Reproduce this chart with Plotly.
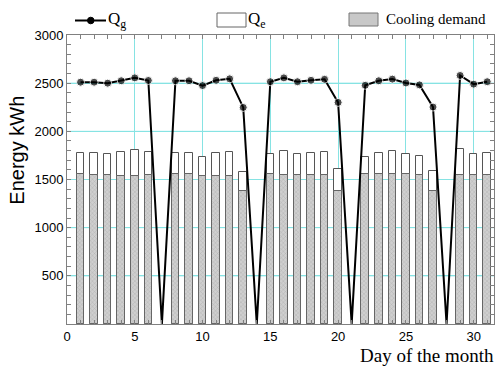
import plotly.graph_objects as go

days = list(range(1, 32))
qg = [2510, 2510, 2500, 2525, 2555, 2528, 0, 2525, 2525, 2475, 2530, 2545, 2248, 0,
      2515, 2555, 2515, 2530, 2540, 2300, 0, 2478, 2525, 2542, 2502, 2482, 2252, 0,
      2580, 2490, 2515]
qe = [1772, 1772, 1769, 1782, 1809, 1782, None, 1772, 1772, 1735, 1779, 1789, 1575, None,
      1765, 1792, 1765, 1775, 1786, 1612, None, 1738, 1775, 1792, 1762, 1745, 1592, None,
      1819, 1762, 1775]
cooling = [1554, 1544, 1544, 1534, 1534, 1544, None, 1554, 1554, 1540, 1540, 1534, 1381, None,
           1554, 1544, 1544, 1544, 1544, 1381, None, 1554, 1554, 1554, 1554, 1544, 1381, None,
           1551, 1551, 1551]
x_tick_step = 5
y_tick_step = 500
y_max = 3000

W, H = 499, 367
ML, MR, MT, MB = 67, 5, 35, 43
PW, PH = W - ML - MR, H - MT - MB
GRID = "#86e3e3"


def px(xp):
    return (xp - ML) / PW


def py(yp):
    return (H - MB - yp) / PH


fig = go.Figure()
fig.add_trace(go.Bar(
    x=days, y=qe, width=0.55, name="Q<sub>e</sub>",
    marker=dict(color="white", line=dict(color="#555555", width=1)),
))
fig.add_trace(go.Bar(
    x=days, y=cooling, width=0.55, name="Cooling demand",
    marker=dict(color="#c4c4c4", line=dict(color="#666666", width=1),
                pattern=dict(shape="x", size=3, solidity=0.25, fgcolor="#8a8a8a", bgcolor="#cfcfcf")),
))
fig.add_trace(go.Scatter(
    x=days, y=qg, mode="lines+markers", name="Q<sub>g</sub>",
    line=dict(color="black", width=2),
    marker=dict(color="black", size=[0 if v == 0 else 8 for v in qg]),
))

# horizontal grid lines at the y tick values (drawn below the traces)
shapes = [
    dict(type="line", xref="paper", yref="y", x0=0, x1=1, y0=v, y1=v, layer="below",
         line=dict(color=GRID, width=1))
    for v in range(y_tick_step, y_max, y_tick_step)
]
# manual legend (drawn in paper coordinates above the plot)
shapes += [
    dict(type="line", xref="paper", yref="paper", x0=px(75), x1=px(106), y0=py(20.5), y1=py(20.5),
         line=dict(color="black", width=2)),
    dict(type="circle", xref="paper", yref="paper", x0=px(87.5), x1=px(94), y0=py(23.8), y1=py(17.2),
         fillcolor="black", line=dict(color="black", width=1)),
    dict(type="rect", xref="paper", yref="paper", x0=px(217), x1=px(246), y0=py(27), y1=py(13),
         fillcolor="white", line=dict(color="#666666", width=1)),
    dict(type="rect", xref="paper", yref="paper", x0=px(349), x1=px(378), y0=py(26), y1=py(13),
         fillcolor="#c8c8c8", line=dict(color="#777777", width=1)),
]
legend_texts = [
    dict(text="Q<sub>g</sub>", x=px(106), y=py(20), size=17),
    dict(text="Q<sub>e</sub>", x=px(246), y=py(20), size=17),
    dict(text="Cooling demand", x=px(384), y=py(19.5), size=15),
]
annotations = [
    dict(text=t["text"], xref="paper", yref="paper", x=t["x"], y=t["y"], xanchor="left",
         yanchor="middle", showarrow=False, font=dict(family="Liberation Serif", size=t["size"]))
    for t in legend_texts
]
annotations += [
    dict(text="Day of the month", xref="paper", yref="paper", x=1.005, y=-0.065,
         xanchor="right", yanchor="top", showarrow=False,
         font=dict(family="Liberation Serif", size=19)),
    dict(text="Energy kWh", xref="paper", yref="paper", x=-0.117, y=0.6,
         xanchor="center", yanchor="middle", showarrow=False, textangle=-90,
         font=dict(family="Liberation Sans", size=20)),
]

fig.update_layout(
    width=W, height=H,
    margin=dict(l=ML, r=MR, t=MT, b=MB),
    paper_bgcolor="white", plot_bgcolor="white",
    barmode="overlay", bargap=0,
    font=dict(family="Liberation Sans", size=13, color="black"),
    showlegend=False,
    shapes=shapes,
    annotations=annotations,
)
fig.update_xaxes(
    range=[0, 31.5], tickmode="linear", tick0=0, dtick=x_tick_step,
    showgrid=True, gridcolor=GRID, gridwidth=1,
    showline=True, linecolor="#808080", mirror="ticks", ticks="inside", ticklen=4,
    tickcolor="#808080", zeroline=False,
    minor=dict(dtick=1, tick0=0, ticks="inside", ticklen=4, tickcolor="#808080", showgrid=False),
)
fig.update_yaxes(
    range=[0, y_max], tickmode="linear", tick0=0, dtick=y_tick_step, labelalias={0: " "},
    showgrid=True, gridcolor=GRID, gridwidth=1,
    showline=True, linecolor="#808080", mirror="ticks", ticks="inside", ticklen=4,
    tickcolor="#808080", zeroline=False,
    minor=dict(dtick=100, tick0=0, ticks="inside", ticklen=4, tickcolor="#808080", showgrid=False),
)
fig.write_html("out.html")
